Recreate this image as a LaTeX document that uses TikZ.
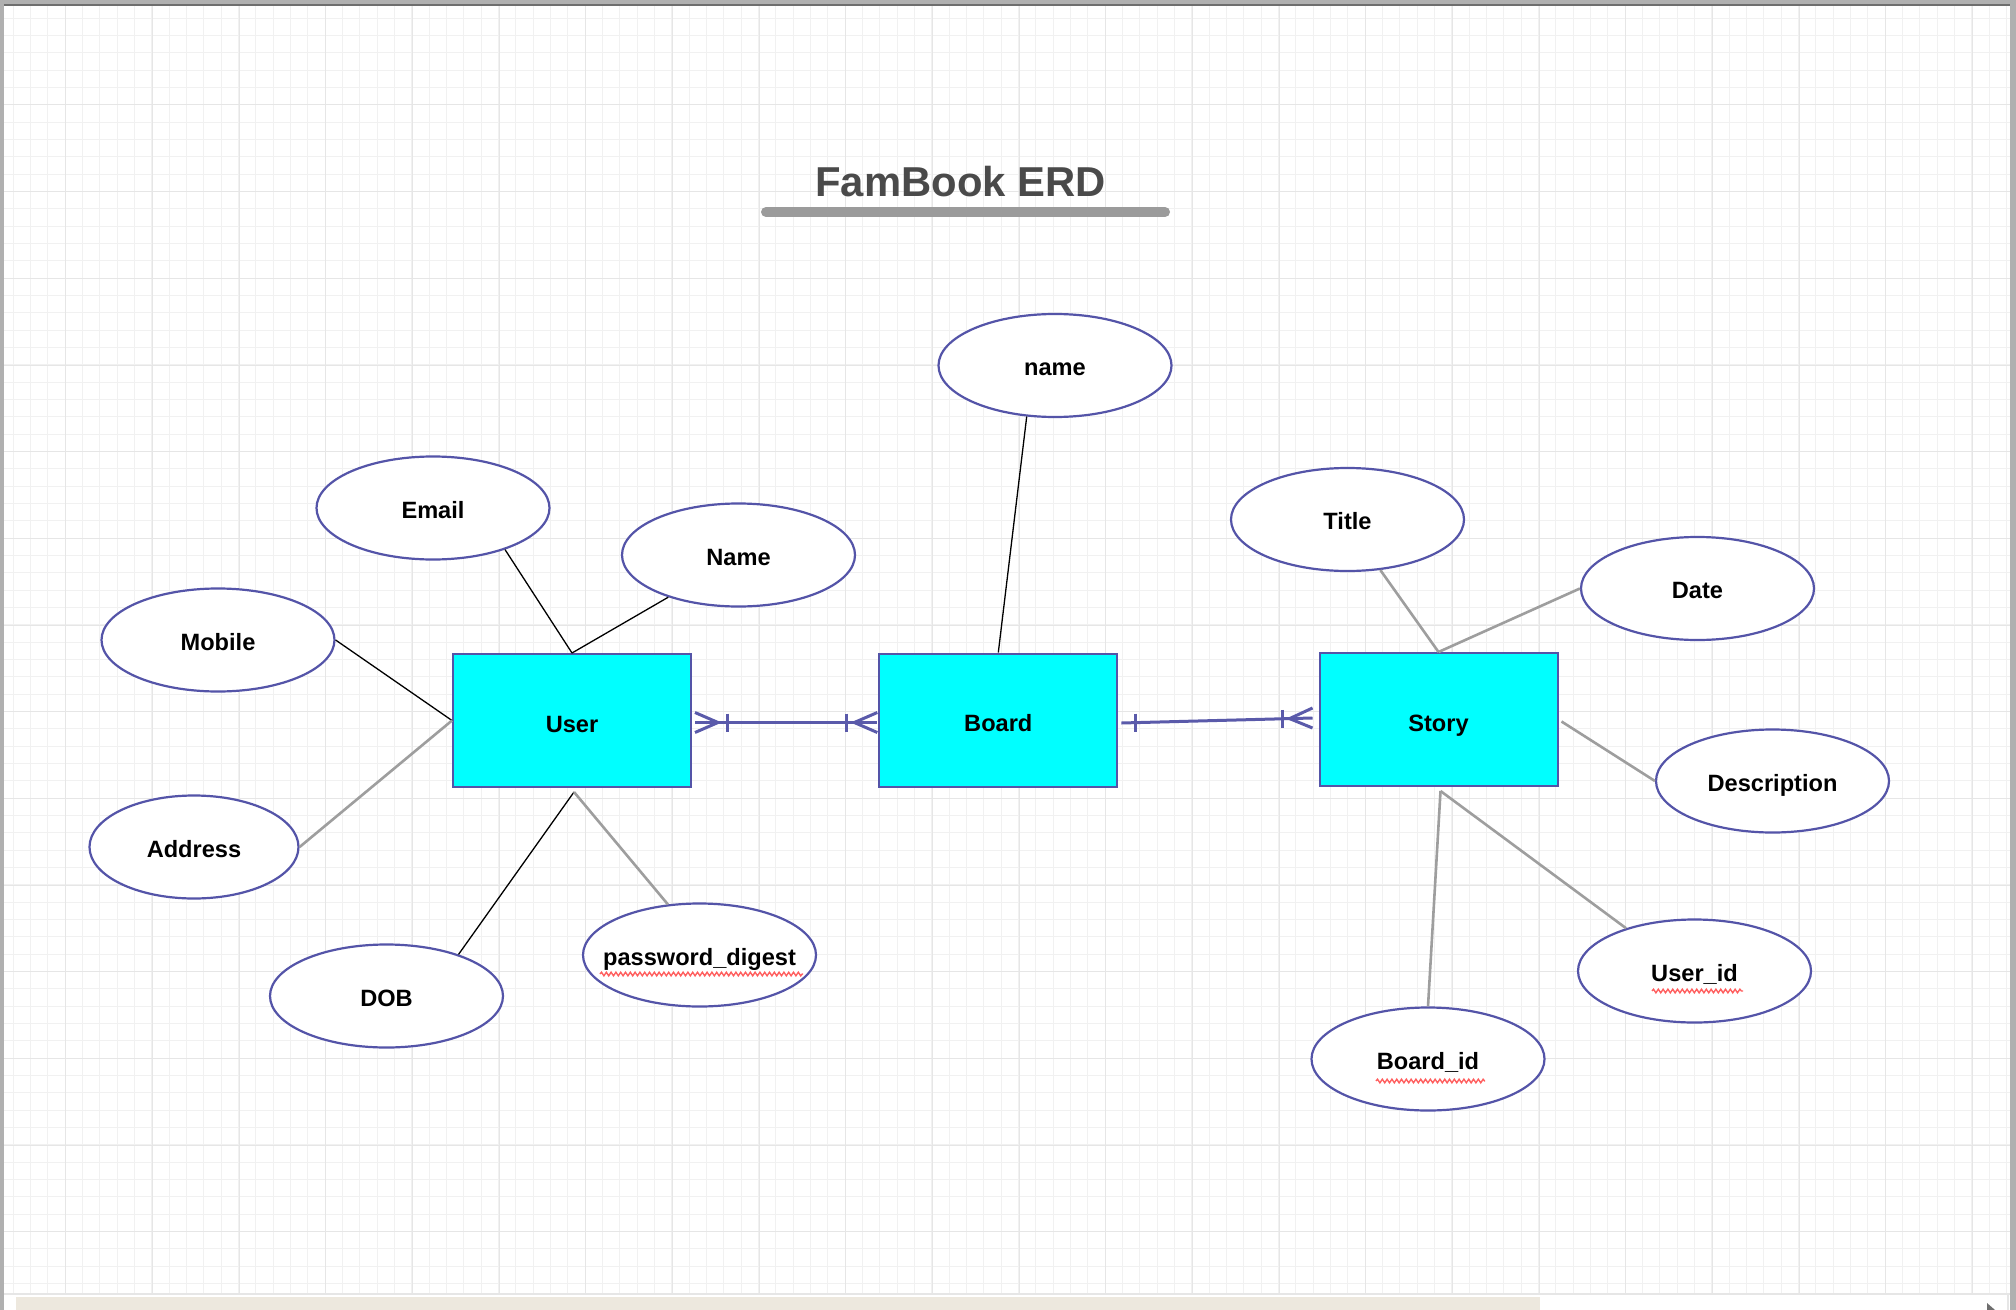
\documentclass[tikz,border=0pt]{standalone}
\usepackage{fontspec}
\setmainfont{Liberation Sans}
\usetikzlibrary{shapes.geometric,calc,decorations.pathmorphing}
\definecolor{erdborder}{RGB}{84,84,168}
\definecolor{erdlink}{RGB}{90,90,170}
\definecolor{erdcyan}{RGB}{0,255,255}
\definecolor{gridminor}{RGB}{241,241,241}
\definecolor{gridmajor}{RGB}{230,230,230}
\definecolor{titlegray}{RGB}{74,74,74}
\definecolor{ulgray}{RGB}{155,155,155}
\definecolor{linkgray}{RGB}{158,158,158}
\definecolor{framegray}{RGB}{176,176,176}
\definecolor{framedark}{RGB}{110,110,110}
\definecolor{beigebar}{RGB}{237,232,222}
\definecolor{squigred}{RGB}{255,95,95}
\begin{document}
\begin{tikzpicture}[x=0.5pt,y=-0.5pt,
 lblfont/.style={font=\fontsize{11.8pt}{14pt}\selectfont\bfseries, text depth=0pt},
 ent/.style={rectangle, draw=erdborder, line width=1pt, fill=erdcyan, minimum width=119pt, minimum height=66.5pt, inner sep=0pt, lblfont, text height=11.5pt},
 attr/.style={ellipse, draw=erdborder, line width=1.1pt, fill=white, minimum width=116.5pt, minimum height=51.5pt, inner sep=0pt},
 lbl/.style={inner sep=0pt, lblfont, text height=10pt},
 blk/.style={draw=black, line width=0.65pt},
 gry/.style={draw=linkgray, line width=1.3pt},
 rel/.style={draw=erdlink, line width=1.5pt, line join=round},
 squig/.style={draw=squigred, line width=0.7pt, decorate, decoration={snake, segment length=2.4pt, amplitude=0.9pt}}
]
\useasboundingbox (0,0) rectangle (2016,1310);
\fill[white] (0,0) rectangle (2016,1310);
% grid
\foreach \i in {0,...,115} \draw[gridminor, line width=0.5pt] ({13.33+17.333*\i},6) -- ({13.33+17.333*\i},1294);
\foreach \i in {0,...,73} \draw[gridminor, line width=0.5pt] (4,{18.3+17.333*\i}) -- (2010,{18.3+17.333*\i});
\foreach \i in {0,...,22} \draw[gridmajor, line width=0.5pt] ({65.67+86.667*\i},6) -- ({65.67+86.667*\i},1294);
\foreach \i in {0,...,14} \draw[gridmajor, line width=0.5pt] (4,{105+86.667*\i}) -- (2010,{105+86.667*\i});
% window frame
\fill[framegray] (0,0) rectangle (2016,5);
\draw[framedark, line width=0.6pt] (0,5) -- (2016,5);
\fill[framegray] (0,0) rectangle (4,1310);
\fill[framegray] (2010,0) rectangle (2016,1310);
\fill[white] (4,1294) rectangle (2010,1310);
\draw[gridmajor, line width=0.6pt] (4,1294) -- (2010,1294);
\draw[gridmajor, line width=0.6pt] (2008,1294) -- (2008,1310);
\fill[beigebar] (16,1297) rectangle (1540,1310);
\fill[framedark] (1987,1303) -- (1995,1310) -- (1987,1310) -- cycle;
% title
\node[anchor=base, inner sep=0pt, text=titlegray, font=\fontsize{20.9pt}{24pt}\selectfont\bfseries] (title) at (960.5,197) {FamBook ERD};
\draw[ulgray, line width=5pt, line cap=round] (766,212) -- (1165,212);
% entities
\node[ent] (User) at (572,720.5) {User};
\node[ent] (Board) at (998.3,720) {Board};
\node[ent] (Story) at (1438.5,719.5) {Story};
% attributes
\node[attr] (Email) at (433,508) {};
\node[lbl] (EmailT) at (Email) {Email};
\node[attr] (Name) at (738.5,555) {};
\node[lbl] (NameT) at (Name) {Name};
\node[attr] (Mobile) at (218,640) {};
\node[lbl] (MobileT) at (Mobile) {Mobile};
\node[attr, minimum width=104.5pt] (Address) at (194,847) {};
\node[lbl] (AddressT) at (Address) {Address};
\node[attr] (DOB) at (386.5,996) {};
\node[lbl] (DOBT) at (DOB) {DOB};
\node[attr] (Pwd) at (699.5,955) {};
\node[lbl] (PwdT) at (Pwd) {password\_digest};
\node[attr] (BName) at (1055,365.5) {};
\node[lbl] (BNameT) at (BName) {name};
\node[attr] (Title) at (1347.5,519.5) {};
\node[lbl] (TitleT) at (Title) {Title};
\node[attr] (Date) at (1697.5,588.5) {};
\node[lbl] (DateT) at (Date) {Date};
\node[attr] (Desc) at (1772.5,781) {};
\node[lbl] (DescT) at (Desc) {Description};
\node[attr] (Userid) at (1694.5,971) {};
\node[lbl] (UseridT) at (Userid) {User\_id};
\node[attr] (Boardid) at (1428,1059) {};
\node[lbl] (BoardidT) at (Boardid) {Board\_id};
% spell-check squiggles
\draw[squig] (600,974) -- (803,974);
\draw[squig] (1376,1081) -- (1485,1081);
\draw[squig] (1652,991) -- (1743,991);
% attribute links
\draw[blk] (Email.-30) -- (User.north);
\draw[blk] (Name.211) -- (User.north);
\draw[blk] (Mobile.east) -- (User.west);
\draw[gry] (Address.east) -- (User.west);
\coordinate (Ubot) at ($(User.south)+(2,4)$);
\draw[blk] (DOB.30) -- (Ubot);
\draw[gry] (Pwd.122) -- (Ubot);
\draw[blk] (BName.241) -- (Board.north);
\draw[gry] (Title.-57) -- (Story.north);
\draw[gry] (Date.west) -- (Story.north);
\coordinate (Seast) at ($(Story.east)+(3,2)$);
\draw[gry] (Seast) -- (Desc.west);
\coordinate (Sbot) at ($(Story.south)+(2,4)$);
\draw[gry] (Sbot) -- (Boardid.north);
\draw[gry] (Sbot) -- (Userid.148);
% relationship User - Board
\coordinate (ub1) at ($(User.east)+(3,2)$);
\coordinate (ub2) at ($(Board.west)+(-1,2.5)$);
\draw[rel] (ub1) -- (ub2);
\draw[rel] ($(ub1)+(0,-10)$) -- ($(ub1)+(23,0)$) -- ($(ub1)+(0,10)$);
\draw[rel] ($(ub1)+(32,-9)$) -- ($(ub1)+(32,9)$);
\draw[rel] ($(ub2)+(0,-10)$) -- ($(ub2)+(-23,0)$) -- ($(ub2)+(0,10)$);
\draw[rel] ($(ub2)+(-31,-9)$) -- ($(ub2)+(-31,9)$);
% relationship Board - Story
\coordinate (bs1) at ($(Board.east)+(3,3)$);
\coordinate (bs2) at ($(Story.west)+(-6,-1.5)$);
\coordinate (bsA) at ($(bs1)!0.073!(bs2)$);
\coordinate (bsB) at ($(bs1)!0.843!(bs2)$);
\coordinate (bsC) at ($(bs1)!0.88!(bs2)$);
\draw[rel] (bs1) -- (bs2);
\draw[rel] ($(bsA)+(0,-9)$) -- ($(bsA)+(0,9)$);
\draw[rel] ($(bsB)+(0,-9)$) -- ($(bsB)+(0,9)$);
\draw[rel] ($(bs2)+(0,-10)$) -- (bsC) -- ($(bs2)+(0,10)$);
\end{tikzpicture}
\end{document}
